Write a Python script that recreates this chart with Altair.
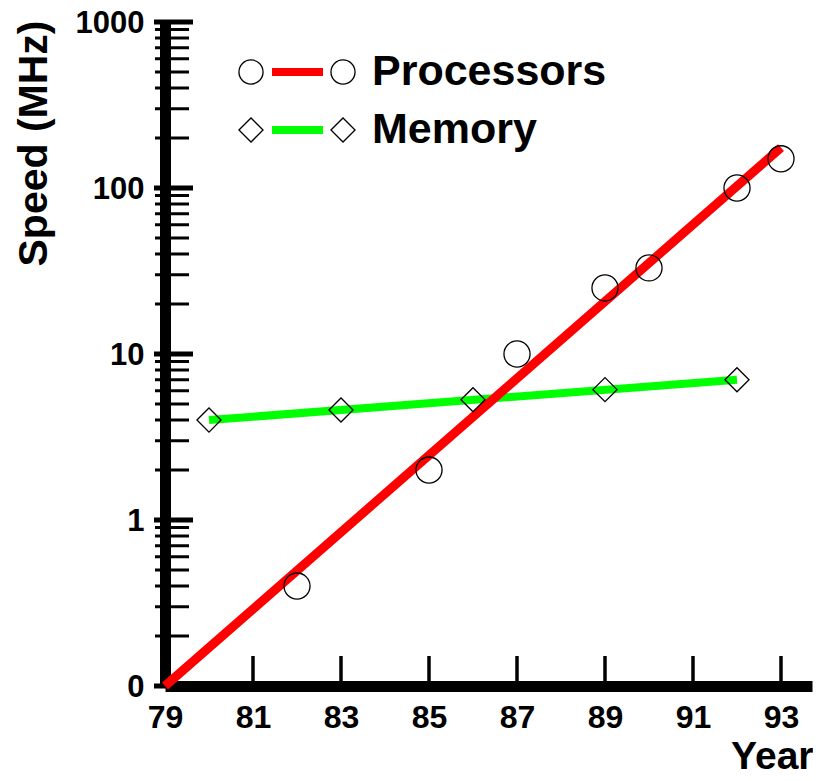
import altair as alt
import pandas as pd

# ---- data ----
proc_years = [82, 85, 87, 89, 90, 92, 93]
proc_speed = [0.4, 2.0, 10, 25, 33, 100, 150]
mem_years = [80, 83, 86, 89, 92]
mem_speed = [4.0, 4.6, 5.3, 6.1, 7.0]
# straight trend lines (end points)
proc_line_years = [79, 93]
proc_line_speed = [0.1, 175]
mem_line_years = [80, 92]
mem_line_speed = [4.0, 7.0]

x_tick_values = [79, 81, 83, 85, 87, 89, 91, 93]
y_tick_values = [0.1, 1, 10, 100, 1000]
y_tick_labels = ["0", "1", "10", "100", "1000"]
y_minor_values = [m * d for d in [0.1, 1, 10, 100] for m in range(2, 10)]
x_tick_marks = [81, 83, 85, 87, 89, 91, 93]

legend_names = ["Processors", "Memory"]
legend_colors = ["#ff0000", "#00ff00"]

W, H = 647, 664
X_MAX = 79 + W / 44.0
FONT = "Liberation Sans"

xs = alt.Scale(domain=[79, X_MAX], nice=False, zero=False)
ys = alt.Scale(type="log", domain=[0.1, 1000], nice=False)

label_expr = " : ".join(
    f"datum.value < {v * 1.5} ? '{l}'" for v, l in zip(y_tick_values[:-1], y_tick_labels[:-1])
) + f" : '{y_tick_labels[-1]}'"

x_axis = alt.Axis(values=x_tick_values, ticks=False, tickSize=0, grid=False, labelFlush=False,
                  labelOverlap=False,
                  domainColor="black", domainWidth=11, labelFont=FONT, labelFontSize=32,
                  labelFontWeight="bold", labelColor="black", labelPadding=16,
                  title="Year", titleFont=FONT, titleFontSize=39, titleFontWeight="bold",
                  titleColor="black", titleX=W + 1, titleY=82, titleAlign="right",
                  titleBaseline="alphabetic", titleAnchor="end")
y_axis = alt.Axis(values=y_tick_values, labelExpr=label_expr, ticks=False, tickSize=0,
                  grid=False, labelFlush=False, labelOverlap=False, labelOffset=1,
                  domainColor="black", domainWidth=11, labelFont=FONT,
                  labelFontSize=31, labelFontWeight="bold", labelColor="black",
                  labelPadding=21, title="Speed (MHz)", titleFont=FONT, titleFontSize=41,
                  titleFontWeight="bold", titleColor="black", titleX=-131, titleY=121,
                  titleAngle=270, titleAlign="center", titleBaseline="middle")

proc_df = pd.DataFrame({"year": proc_years, "speed": proc_speed})
mem_df = pd.DataFrame({"year": mem_years, "speed": mem_speed})
pl_df = pd.DataFrame({"year": proc_line_years, "speed": proc_line_speed})
ml_df = pd.DataFrame({"year": mem_line_years, "speed": mem_line_speed})

X = alt.X("year:Q", scale=xs, axis=x_axis)
Y = alt.Y("speed:Q", scale=ys, axis=y_axis)

base_axes = alt.Chart(pl_df).mark_point(opacity=0).encode(x=X, y=Y)

mem_line = alt.Chart(ml_df).mark_line(color=legend_colors[1], strokeWidth=8, strokeCap="butt").encode(
    x=alt.X("year:Q", scale=xs), y=alt.Y("speed:Q", scale=ys))
proc_line = alt.Chart(pl_df).mark_line(color=legend_colors[0], strokeWidth=9, strokeCap="butt").encode(
    x=alt.X("year:Q", scale=xs), y=alt.Y("speed:Q", scale=ys))
proc_pts = alt.Chart(proc_df).mark_point(shape="circle", size=680, stroke="black",
                                         strokeWidth=1.3, fill=None, opacity=1).encode(
    x=alt.X("year:Q", scale=xs), y=alt.Y("speed:Q", scale=ys))
mem_pts = alt.Chart(mem_df).mark_point(shape="diamond", size=580, stroke="black",
                                       strokeWidth=1.3, fill=None, opacity=1).encode(
    x=alt.X("year:Q", scale=xs), y=alt.Y("speed:Q", scale=ys))

# axis tick marks drawn inside the plot
minor_df = pd.DataFrame({"v": y_minor_values})
major_df = pd.DataFrame({"v": y_tick_values})
xt_df = pd.DataFrame({"v": x_tick_marks})
y_minor = alt.Chart(minor_df).mark_rule(color="black", strokeWidth=3).encode(
    y=alt.Y("v:Q", scale=ys), x=alt.value(-10), x2=alt.value(24))
y_major = alt.Chart(major_df).mark_rule(color="black", strokeWidth=5).encode(
    y=alt.Y("v:Q", scale=ys), x=alt.value(-11), x2=alt.value(28))
x_ticks = alt.Chart(xt_df).mark_rule(color="black", strokeWidth=3.5).encode(
    x=alt.X("v:Q", scale=xs), y=alt.value(H - 30), y2=alt.value(H))

# legend
leg_df = pd.DataFrame({"name": legend_names, "color": legend_colors,
                       "shape": ["circle", "diamond"], "row": [0, 1]})
row_y = "50 + datum.row * 58"
leg_line = alt.Chart(leg_df).mark_rule(strokeWidth=8).transform_calculate(
    py=row_y).encode(
    x=alt.value(107), x2=alt.value(158), y=alt.Y("py:Q", scale=None),
    color=alt.Color("color:N", scale=None, legend=None))
leg_pts = alt.Chart(leg_df).transform_calculate(py=row_y).transform_fold(
    ["a", "b"]).transform_calculate(px="datum.key == 'a' ? 86 : 178").mark_point(
    size=580, stroke="black", strokeWidth=1.3, fill=None, opacity=1).encode(
    x=alt.X("px:Q", scale=None), y=alt.Y("py:Q", scale=None),
    shape=alt.Shape("shape:N", scale=None, legend=None))
leg_text = alt.Chart(leg_df).transform_calculate(py=row_y).mark_text(
    align="left", baseline="middle", font=FONT, fontSize=43, fontWeight="bold",
    color="black").encode(x=alt.value(207), y=alt.Y("py:Q", scale=None), text="name:N")

chart = alt.layer(base_axes, y_minor, y_major, x_ticks, mem_line, proc_line,
                  mem_pts, proc_pts, leg_line, leg_pts, leg_text).properties(
    width=W, height=H,
    autosize=alt.AutoSizeParams(type="none"),
    padding={"left": 157, "top": 14, "right": 1, "bottom": 86},
    background="white",
).configure_view(stroke=None)

chart.save("out.html", embed_options={"renderer": "svg", "actions": False})
